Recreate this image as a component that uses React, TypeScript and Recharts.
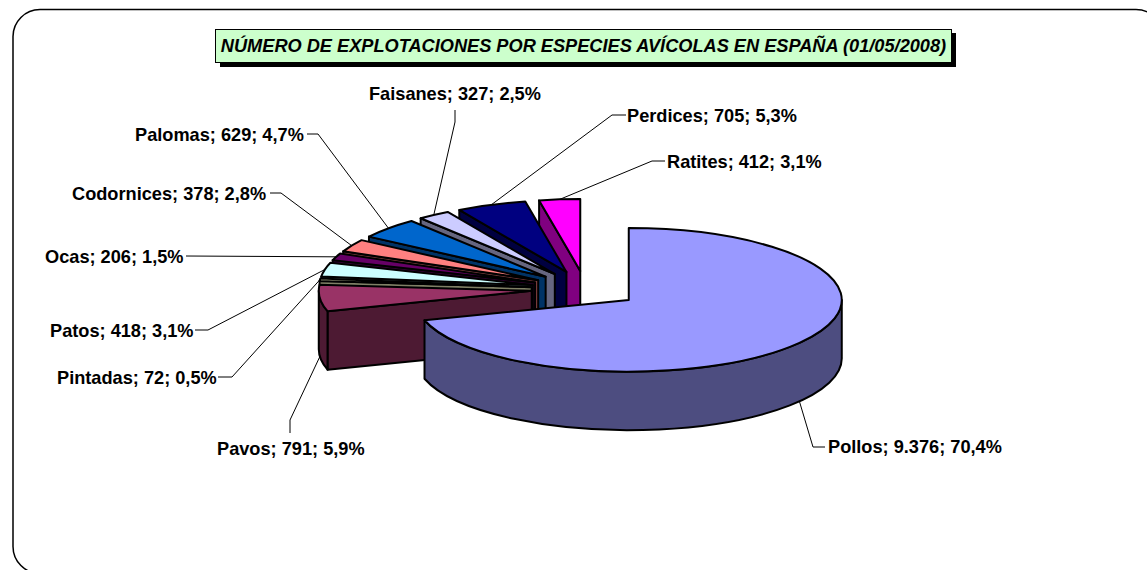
import React from "react";
import { PieChart, Pie } from "recharts";

const WIDTH = 1147;
const HEIGHT = 570;

// Listed clockwise from the top going backwards, so that back slices paint first.
const categories = ["Ratites", "Perdices", "Faisanes", "Palomas", "Codornices", "Ocas", "Patos", "Pintadas", "Pavos", "Pollos"];
const values = [412, 705, 327, 629, 378, 206, 418, 72, 791, 9376];
const colors = ["#FF00FF", "#000080", "#CCCCFF", "#0066CC", "#FF8080", "#660066", "#CCFFFF", "#FFFFCC", "#993366", "#9999FF"];
const title = "NÚMERO DE EXPLOTACIONES POR ESPECIES AVÍCOLAS EN ESPAÑA (01/05/2008)";

const total = values.reduce((a, b) => a + b, 0);
const fmtValue = (v: number) => String(v).replace(/\B(?=(\d{3})+$)/g, ".");
const fmtPct = (v: number) => ((v / total) * 100).toFixed(1).replace(".", ",");

const data = categories.map((name, i) => ({ name, value: values[i], fill: colors[i] }));

// Layout of the pseudo-3D projection
const CX = 585.5;
const CY = 289;
const RX = 213;
const TILT = 0.337;
const EXPLODE = 54;
const DEPTH = 58.5;

// Label placement: text start and baseline, then the leader's start and elbow
const labelLayout: Record<string, { x: number; y: number; from: [number, number]; elbow: [number, number] }> = {
  Ratites: { x: 667, y: 168, from: [665, 161], elbow: [652, 161] },
  Perdices: { x: 627, y: 122, from: [626, 115], elbow: [612, 115] },
  Faisanes: { x: 369, y: 100, from: [455, 110], elbow: [455, 122] },
  Palomas: { x: 135, y: 141, from: [307, 134], elbow: [318, 134] },
  Codornices: { x: 72, y: 200, from: [270, 193], elbow: [281, 193] },
  Ocas: { x: 45, y: 263, from: [186, 256], elbow: [186, 256] },
  Patos: { x: 50, y: 337, from: [195, 330], elbow: [208, 330] },
  Pintadas: { x: 57, y: 384, from: [218, 377], elbow: [232, 377] },
  Pavos: { x: 217, y: 455, from: [290, 433], elbow: [290, 420] },
  Pollos: { x: 828, y: 453, from: [825, 447], elbow: [813, 447] },
};

const rad = (d: number) => (d * Math.PI) / 180;
const darken = (hex: string) => {
  const n = parseInt(hex.slice(1), 16);
  const c = (s: number) => Math.round(((n >> s) & 255) / 2);
  return `rgb(${c(16)},${c(8)},${c(0)})`;
};

// Angles measured clockwise from 12 o'clock; rounding keeps a slice ending at the top from wrapping round
const clockAngles = (startAngle: number, endAngle: number) => {
  const e = Math.round(endAngle * 1e6) / 1e6;
  const t0 = (((90 - e) % 360) + 360) % 360;
  return { t0, t1: t0 + (endAngle - startAngle) };
};

const Slice3D = (props: any) => {
  const { cx, cy, outerRadius: r, startAngle, endAngle, fill } = props;
  const { t0, t1 } = clockAngles(startAngle, endAngle);
  const m = (t0 + t1) / 2;
  const ax = cx + EXPLODE * Math.sin(rad(m));
  const ay = cy - EXPLODE * TILT * Math.cos(rad(m));
  const ry = r * TILT;
  const pt = (t: number, dz = 0): [number, number] => [ax + r * Math.sin(rad(t)), ay - ry * Math.cos(rad(t)) + dz];
  const side = darken(fill);
  const stroke = { stroke: "#000", strokeWidth: 2, strokeLinejoin: "round" as const };
  const quad = (t: number) => {
    const p = pt(t);
    return `M${ax},${ay}L${p[0]},${p[1]}L${p[0]},${p[1] + DEPTH}L${ax},${ay + DEPTH}Z`;
  };
  const w0 = Math.max(t0, 90);
  const w1 = Math.min(t1, 270);
  const [ps, pe] = [pt(t0), pt(t1)];
  const large = t1 - t0 > 180 ? 1 : 0;
  let wall = "";
  if (w1 > w0) {
    const [a, b, c, d] = [pt(w0), pt(w1), pt(w1, DEPTH), pt(w0, DEPTH)];
    const l = w1 - w0 > 180 ? 1 : 0;
    wall = `M${a[0]},${a[1]}A${r},${ry} 0 ${l} 1 ${b[0]},${b[1]}L${c[0]},${c[1]}A${r},${ry} 0 ${l} 0 ${d[0]},${d[1]}Z`;
  }
  return (
    <g>
      {-Math.cos(rad(t0 - 90)) > 0.001 && <path d={quad(t0)} fill={side} {...stroke} />}
      {-Math.cos(rad(t1 + 90)) > 0.001 && <path d={quad(t1)} fill={side} {...stroke} />}
      {wall && <path d={wall} fill={side} {...stroke} />}
      <path d={`M${ax},${ay}L${ps[0]},${ps[1]}A${r},${ry} 0 ${large} 1 ${pe[0]},${pe[1]}Z`} fill={fill} {...stroke} />
    </g>
  );
};

const renderLabel = (props: any) => {
  const { cx, cy, outerRadius: r, startAngle, endAngle, name, value } = props;
  const { t0, t1 } = clockAngles(startAngle, endAngle);
  const m = (t0 + t1) / 2;
  const far = r + EXPLODE;
  const tx = cx + far * Math.sin(rad(m));
  const front = m > 90 && m < 270;
  const ty = cy - far * TILT * Math.cos(rad(m)) + (front ? DEPTH : 0);
  const l = labelLayout[name];
  return (
    <g key={name}>
      <polyline
        points={`${l.from[0]},${l.from[1]} ${l.elbow[0]},${l.elbow[1]} ${tx},${ty}`}
        fill="none"
        stroke="#000"
        strokeWidth={1}
      />
      <text x={l.x} y={l.y} fontFamily="Liberation Sans" fontWeight="bold" fontSize={18.2} fill="#000">
        {`${name}; ${fmtValue(value)}; ${fmtPct(value)}%`}
      </text>
    </g>
  );
};

export default function App() {
  return (
    <div style={{ position: "absolute", left: 0, top: 0, width: WIDTH, height: HEIGHT, overflow: "hidden", background: "#fff" }}>
      <PieChart width={WIDTH} height={HEIGHT} margin={{ top: 0, right: 0, bottom: 0, left: 0 }}>
        <rect x={13} y={9.5} width={1150} height={564} rx={27} ry={27} fill="#fff" stroke="#000" strokeWidth={1.5} />
        <rect x={220} y={33} width={736} height={34} fill="#000" />
        <rect x={215.5} y={29.5} width={736} height={33} fill="#CCFFCC" stroke="#000" strokeWidth={1} />
        <text x={583.5} y={52} textAnchor="middle" fontFamily="Liberation Sans" fontWeight="bold" fontStyle="italic" fontSize={18.2} fill="#000">
          {title}
        </text>
        <Pie
          data={data}
          dataKey="value"
          nameKey="name"
          cx={CX}
          cy={CY}
          innerRadius={0}
          outerRadius={RX}
          startAngle={90}
          endAngle={450}
          paddingAngle={0}
          isAnimationActive={false}
          shape={Slice3D}
          label={renderLabel}
          labelLine={false}
        />
      </PieChart>
    </div>
  );
}
